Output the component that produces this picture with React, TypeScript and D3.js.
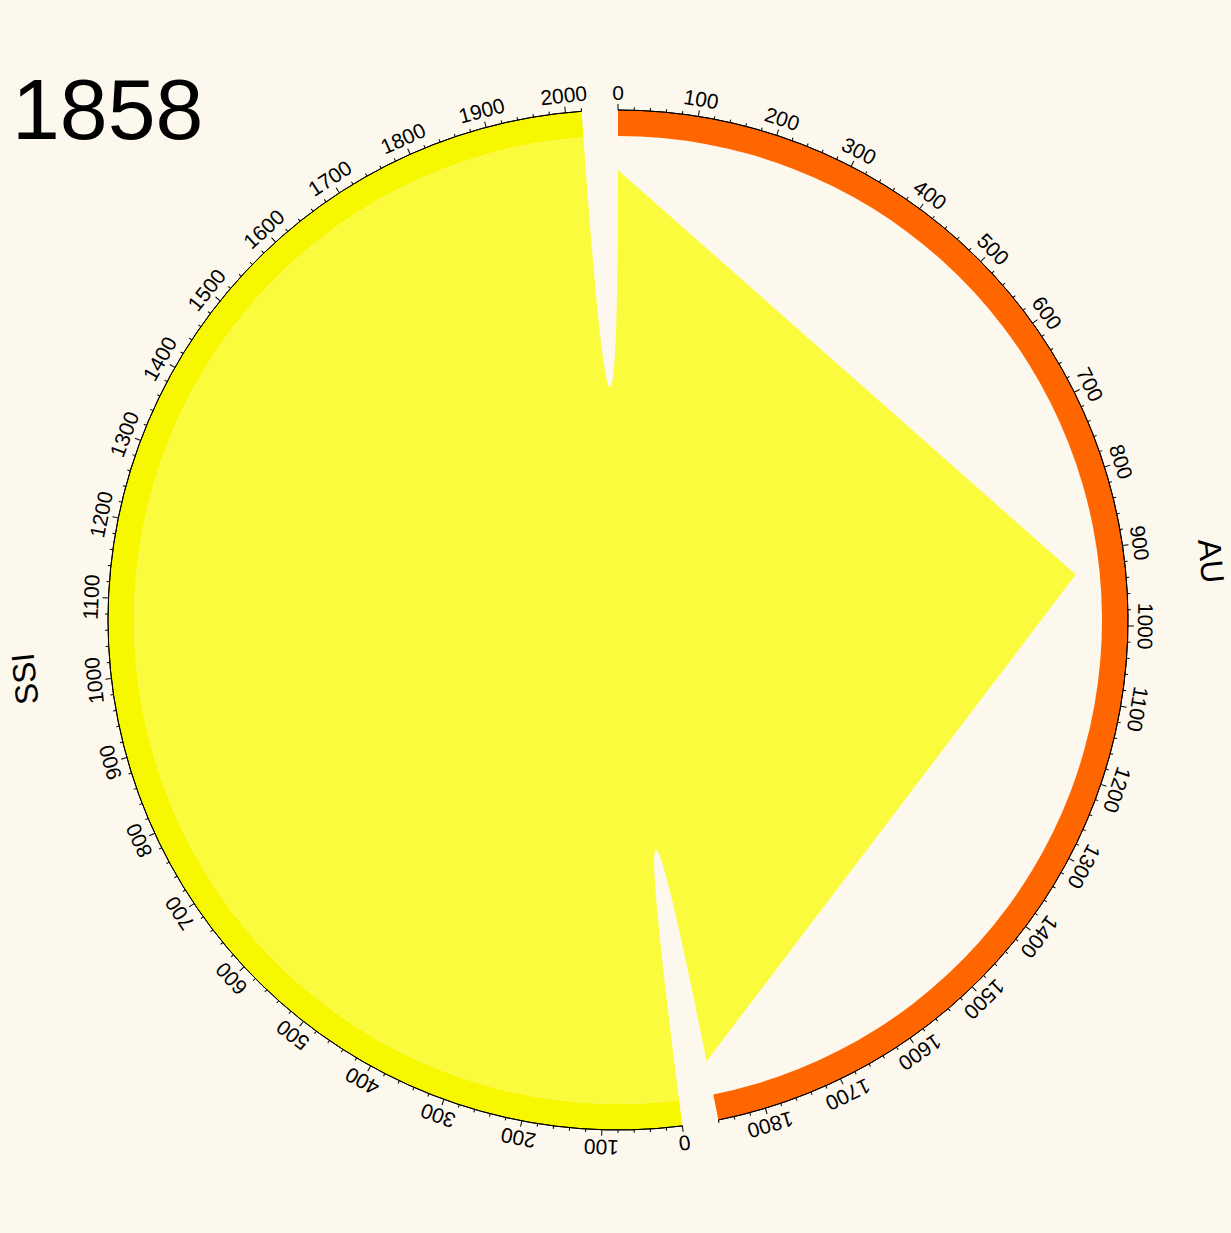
import React from "react";
import * as d3 from "d3";

// groups on the ring (clockwise from top)
const groupNames = ["AU", "SSI"];
const groupTotals = [1860, 2020];
const groupColors = ["#ff6600", "#f7f700"];

// one directed flow: SSI -> AU
const flowSource = { group: 1, start: 0, end: 2020 };
const flowTarget = { group: 0, start: 0, end: 1860 };
const flowColor = "#fbfb3e";

const yearLabel = "1858";
const tickStep = 20;
const labelStep = 100;

const W = 1231;
const H = 1233;
const cx = 618;
const cy = 620;
const outerR = 510;
const innerR = 484;
const padDeg = 4.1;

export default function App() {
  const total = d3.sum(groupTotals);
  const k = (360 - padDeg * groupTotals.length) / total;

  // start/end angle (degrees) for each group
  let acc = 0;
  const groups = groupTotals.map((v, i) => {
    const a0 = acc;
    const a1 = a0 + v * k;
    acc = a1 + padDeg;
    const scale = d3.scaleLinear().domain([0, v]).range([a0, a1]);
    return { name: groupNames[i], value: v, a0, a1, scale, color: groupColors[i] };
  });

  const rad = (deg: number) => (deg * Math.PI) / 180;

  const arcGen = d3.arc<any>().innerRadius(innerR).outerRadius(outerR);
  const outline = d3.arc<any>().innerRadius(outerR).outerRadius(outerR);

  const src = groups[flowSource.group];
  const tgt = groups[flowTarget.group];
  const ribbon = d3
    .ribbonArrow<any, any>()
    .sourceRadius(innerR)
    .targetRadius(460)
    .headRadius(10);
  const ribbonPath = ribbon({
    source: { startAngle: rad(src.scale(flowSource.start)), endAngle: rad(src.scale(flowSource.end)) },
    target: { startAngle: rad(tgt.scale(flowTarget.start)), endAngle: rad(tgt.scale(flowTarget.end)) },
  }) as unknown as string;

  const font = "'Liberation Sans', Arial, sans-serif";

  return (
    <svg width={W} height={H} style={{ position: "absolute", left: 0, top: 0 }}>
      <rect width={W} height={H} fill="#fdf8ee" />
      <text x={12} y={139} fontFamily={font} fontSize={86} fill="#000">
        {yearLabel}
      </text>
      <g transform={`translate(${cx},${cy})`}>
        <path d={ribbonPath} fill={flowColor} />
        {groups.map((g) => {
          const ticks = d3.range(0, g.value + 0.001, tickStep);
          const labels = d3.range(0, g.value + 0.001, labelStep);
          const mid = (g.a0 + g.a1) / 2;
          return (
            <g key={g.name}>
              <path d={arcGen({ startAngle: rad(g.a0), endAngle: rad(g.a1) }) || ""} fill={g.color} />
              <path
                d={outline({ startAngle: rad(g.a0), endAngle: rad(g.a1) }) || ""}
                fill="none"
                stroke="#000"
                strokeWidth={1}
              />
              {ticks.map((t) => (
                <line
                  key={t}
                  transform={`rotate(${g.scale(t)})`}
                  x1={0}
                  x2={0}
                  y1={-outerR}
                  y2={-(outerR + (t % labelStep === 0 ? 6 : 3))}
                  stroke="#000"
                  strokeWidth={1}
                />
              ))}
              {labels.map((t) => (
                <text
                  key={"l" + t}
                  transform={`rotate(${g.scale(t)}) translate(0,${-(outerR + 10)})`}
                  textAnchor="middle"
                  fontFamily={font}
                  fontSize={21}
                  fill="#000"
                >
                  {t}
                </text>
              ))}
              <text
                transform={`rotate(${mid}) translate(0,-585)`}
                textAnchor="middle"
                fontFamily={font}
                fontSize={32}
                fill="#000"
              >
                {g.name}
              </text>
            </g>
          );
        })}
      </g>
    </svg>
  );
}
